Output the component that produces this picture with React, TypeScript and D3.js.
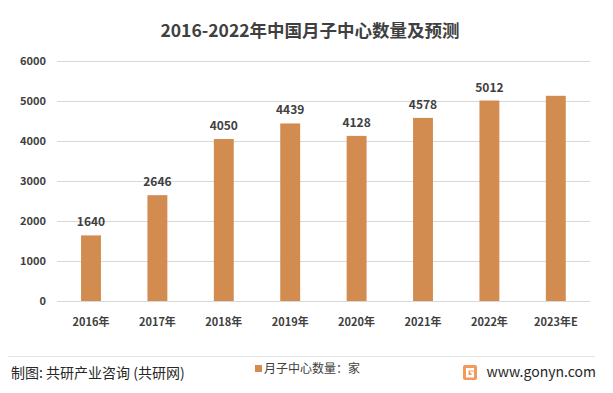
import React, { useRef, useEffect } from "react";
import * as d3 from "d3";

const categories = ["2016年", "2017年", "2018年", "2019年", "2020年", "2021年", "2022年", "2023年E"];
const values = [1640, 2646, 4050, 4439, 4128, 4578, 5012, 5130];
const showLabel = [true, true, true, true, true, true, true, false];
const yTicks = [0, 1000, 2000, 3000, 4000, 5000, 6000];

const FONT = "'Noto Sans CJK SC', 'Noto Sans', sans-serif";

const App: React.FC = () => {
  const svgRef = useRef<SVGSVGElement | null>(null);

  useEffect(() => {
    const width = 613;
    const height = 393;
    const svg = d3.select(svgRef.current);
    svg.selectAll("*").remove();
    svg.attr("width", width).attr("height", height);

    svg.append("rect").attr("width", width).attr("height", height).attr("fill", "#fff");

    // outer frame
    svg
      .append("rect")
      .attr("x", 3.5)
      .attr("y", 6.5)
      .attr("width", 605)
      .attr("height", 381)
      .attr("fill", "none")
      .attr("stroke", "#cfcfcf");

    // title
    svg
      .append("text")
      .attr("x", 310)
      .attr("y", 37)
      .attr("text-anchor", "middle")
      .style("font-family", FONT)
      .style("font-size", "17.5px")
      .style("font-weight", "bold")
      .style("fill", "#404040")
      .text("2016-2022年中国月子中心数量及预测");

    const x = d3.scaleBand<string>().domain(categories).range([57.8, 589]).paddingInner(0.7).paddingOuter(0.35);
    const y = d3.scaleLinear().domain([0, 6000]).range([301, 61]);

    // gridlines
    svg
      .append("g")
      .selectAll("line")
      .data(yTicks)
      .join("line")
      .attr("x1", 57)
      .attr("x2", 590)
      .attr("y1", (d) => Math.round(y(d)) + 0.5)
      .attr("y2", (d) => Math.round(y(d)) + 0.5)
      .attr("stroke", "#d9d9d9");

    // y tick labels
    svg
      .append("g")
      .selectAll("text")
      .data(yTicks)
      .join("text")
      .attr("x", 46)
      .attr("y", (d) => y(d))
      .attr("dy", "0.35em")
      .attr("text-anchor", "end")
      .style("font-family", FONT)
      .style("font-size", "11px")
      .style("font-weight", "bold")
      .style("fill", "#404040")
      .text((d) => d);

    // bars
    svg
      .append("g")
      .selectAll("rect")
      .data(values)
      .join("rect")
      .attr("x", (_, i) => x(categories[i]) as number)
      .attr("y", (d) => y(d))
      .attr("width", x.bandwidth())
      .attr("height", (d) => y(0) - y(d))
      .attr("fill", "#D38C50");

    // value labels
    svg
      .append("g")
      .selectAll("text")
      .data(values.filter((_, i) => showLabel[i]))
      .join("text")
      .attr("x", (_, i) => (x(categories[i]) as number) + x.bandwidth() / 2)
      .attr("y", (d) => y(d) - 9)
      .attr("text-anchor", "middle")
      .style("font-family", FONT)
      .style("font-size", "12px")
      .style("font-weight", "bold")
      .style("fill", "#404040")
      .text((d) => d);

    // x labels
    svg
      .append("g")
      .selectAll("text")
      .data(categories)
      .join("text")
      .attr("x", (d) => (x(d) as number) + x.bandwidth() / 2)
      .attr("y", 326)
      .attr("text-anchor", "middle")
      .style("font-family", FONT)
      .style("font-size", "11px")
      .style("font-weight", "bold")
      .style("fill", "#404040")
      .text((d) => d);

    // footer separator
    svg
      .append("line")
      .attr("x1", 4)
      .attr("x2", 595)
      .attr("y1", 356.5)
      .attr("y2", 356.5)
      .attr("stroke", "#e3e3e3");

    // legend
    svg
      .append("rect")
      .attr("x", 255)
      .attr("y", 365)
      .attr("width", 7)
      .attr("height", 7)
      .attr("fill", "#D38C50");
    svg
      .append("text")
      .attr("x", 264)
      .attr("y", 373)
      .style("font-family", FONT)
      .style("font-size", "12px")
      .style("fill", "#404040")
      .text("月子中心数量：家");

    // source
    svg
      .append("text")
      .attr("x", 11)
      .attr("y", 378)
      .style("font-family", FONT)
      .style("font-size", "14px")
      .style("fill", "#262626")
      .text("制图: 共研产业咨询 (共研网)");

    // logo
    const logo = svg.append("g").attr("transform", "translate(463,365)");
    logo.append("rect").attr("width", 14).attr("height", 15).attr("rx", 2).attr("fill", "#F39A5A");
    logo
      .append("path")
      .attr("d", "M3,3 H11 V5.5 H5.5 V10 H8.5 V8 H7 V6.5 H11 V12.5 H3 Z")
      .attr("fill", "#fff");

    svg
      .append("text")
      .attr("x", 596)
      .attr("y", 377)
      .attr("text-anchor", "end")
      .style("font-family", FONT)
      .style("font-size", "14px")
      .style("fill", "#262626")
      .text("www.gonyn.com");
  }, []);

  return (
    <div style={{ margin: -8 }}>
      <svg ref={svgRef} style={{ display: "block" }}></svg>
    </div>
  );
};

export default App;
